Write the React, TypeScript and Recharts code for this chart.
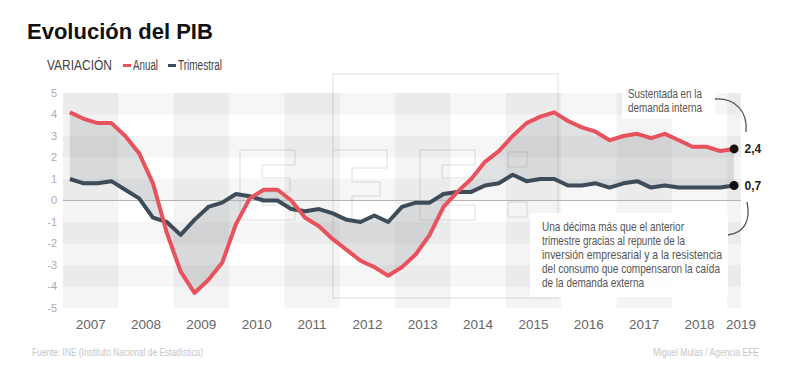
import React from 'react';
import {
  ComposedChart,
  Line,
  Area,
  XAxis,
  YAxis,
  ReferenceArea,
  ReferenceLine,
  ReferenceDot,
} from 'recharts';

const years = ['2007', '2008', '2009', '2010', '2011', '2012', '2013', '2014', '2015', '2016', '2017', '2018', '2019'];
const quarterNames = ['T1', 'T2', 'T3', 'T4'];

// Variación anual (%), 2007-T1 .. 2019-T1
const anual = [
  4.1, 3.8, 3.6, 3.6,
  3.0, 2.2, 0.8, -1.5,
  -3.3, -4.3, -3.7, -2.9,
  -1.1, 0.1, 0.5, 0.5,
  0.0, -0.8, -1.2, -1.8,
  -2.3, -2.8, -3.1, -3.5,
  -3.1, -2.5, -1.6, -0.3,
  0.4, 1.0, 1.8, 2.3,
  3.0, 3.6, 3.9, 4.1,
  3.7, 3.4, 3.2, 2.8,
  3.0, 3.1, 2.9, 3.1,
  2.8, 2.5, 2.5, 2.3,
  2.4,
];

// Variación trimestral (%)
const trimestral = [
  1.0, 0.8, 0.8, 0.9,
  0.5, 0.1, -0.8, -1.0,
  -1.6, -0.9, -0.3, -0.1,
  0.3, 0.2, 0.0, 0.0,
  -0.4, -0.5, -0.4, -0.6,
  -0.9, -1.0, -0.7, -1.0,
  -0.3, -0.1, -0.1, 0.3,
  0.4, 0.4, 0.7, 0.8,
  1.2, 0.9, 1.0, 1.0,
  0.7, 0.7, 0.8, 0.6,
  0.8, 0.9, 0.6, 0.7,
  0.6, 0.6, 0.6, 0.6,
  0.7,
];

const yTicks = [5, 4, 3, 2, 1, 0, -1, -2, -3, -4, -5];
const rowBands = [[4, 5], [2, 3], [0, 1], [-2, -1], [-4, -3]];
const lastLabels = ['2,4', '0,7'];

const data = anual.map((a, i) => ({
  x: i + 0.5,
  periodo: `${years[Math.floor(i / 4)]}-${quarterNames[i % 4]}`,
  anual: a,
  trimestral: trimestral[i],
  rango: [trimestral[i], a],
}));

const nQ = anual.length;
const yearTicks = years.map((_, k) => (k < years.length - 1 ? k * 4 + 2 : nQ));
const colBands = years
  .map((_, k) => [k * 4, Math.min(k * 4 + 4, nQ)])
  .filter((_, k) => k % 2 === 0);

const RED = '#e8525c';
const BLUE = '#3e4c59';
const SANS = "'Liberation Sans', Arial, Helvetica, sans-serif";

const E_SHAPE = (x: number) =>
  `M${x},150 H${x + 55} V165 H${x + 22} V178 H${x + 50} V192 H${x + 22} V205 H${x + 55} V220 H${x} Z`;

const NText = ({ x, y, w, children, anchor }: { x: number; y: number; w: number; children: string; anchor?: string }) => (
  <text
    x={anchor === 'end' ? x - w : x}
    y={y}
    textLength={w}
    lengthAdjust="spacingAndGlyphs"
  >
    {children}
  </text>
);

export default function App() {
  const last = data[data.length - 1];
  return (
    <div style={{ position: 'absolute', left: 0, top: 0, width: 800, height: 370, background: '#fff', overflow: 'hidden' }}>
      {/* watermark behind the chart */}
      <svg width={800} height={370} style={{ position: 'absolute', left: 0, top: 0 }}>
        <g fill="none" stroke="#e0e0e0" strokeWidth={1}>
          <rect x={333} y={74} width={225} height={224} />
          <path d={E_SHAPE(240)} />
          <path d="M333,150 H387 V168 H352 V182 H380 V196 H352 V220" />
          <path d={E_SHAPE(420)} />
          <rect x={508} y={152} width={19} height={15} />
          <rect x={508} y={202} width={19} height={15} />
        </g>
      </svg>
      <div style={{ position: 'absolute', left: 0, top: 0 }}>
        <ComposedChart
          width={800}
          height={370}
          data={data}
          margin={{ top: 93, right: 59, bottom: 32, left: 33 }}
        >
          {colBands.map(([a, b], k) => (
            <ReferenceArea key={`c${k}`} x1={a} x2={b} y1={-5} y2={5} fill="#000" fillOpacity={0.045} stroke="none" ifOverflow="visible" />
          ))}
          {rowBands.map(([a, b], k) => (
            <ReferenceArea key={`r${k}`} x1={0} x2={nQ} y1={a} y2={b} fill="#000" fillOpacity={0.035} stroke="none" ifOverflow="visible" />
          ))}
          <XAxis
            dataKey="x"
            type="number"
            domain={[0, nQ]}
            ticks={yearTicks}
            tickFormatter={(v: number) => years[yearTicks.indexOf(v)] ?? ''}
            axisLine={false}
            tickLine={false}
            tickSize={8}
            tickMargin={3}
            height={30}
            interval={0}
            tick={{ fill: '#666', fontSize: 13.5, fontFamily: SANS }}
          />
          <YAxis
            type="number"
            domain={[-5, 5]}
            ticks={yTicks}
            axisLine={false}
            tickLine={false}
            tickSize={4}
            tickMargin={2}
            width={30}
            interval={0}
            tick={{ fill: '#adadad', fontSize: 11, fontFamily: SANS }}
          />
          <ReferenceLine y={0} stroke="#b4b4b4" strokeWidth={1} ifOverflow="visible" />
          <Area
            dataKey="rango"
            type="linear"
            stroke="none"
            fill="#8e949b"
            fillOpacity={0.28}
            isAnimationActive={false}
          />
          <Line dataKey="trimestral" type="linear" stroke={BLUE} strokeWidth={4} dot={false} isAnimationActive={false} strokeLinejoin="round" />
          <Line dataKey="anual" type="linear" stroke={RED} strokeWidth={4} dot={false} isAnimationActive={false} strokeLinejoin="round" />
          <ReferenceDot
            x={last.x}
            y={last.anual}
            r={4.5}
            fill="#111"
            stroke="none"
            ifOverflow="visible"
            label={{ value: lastLabels[0], position: 'right', offset: 6, fill: '#222', fontSize: 12, fontWeight: 700, fontFamily: SANS }}
          />
          <ReferenceDot
            x={last.x}
            y={last.trimestral}
            r={4.5}
            fill="#111"
            stroke="none"
            ifOverflow="visible"
            label={{ value: lastLabels[1], position: 'right', offset: 6, fill: '#222', fontSize: 12, fontWeight: 700, fontFamily: SANS }}
          />
        </ComposedChart>
      </div>
      {/* annotations overlay */}
      <svg width={800} height={370} style={{ position: 'absolute', left: 0, top: 0, pointerEvents: 'none' }}>
        <text x={27} y={39} fontFamily={SANS} fontWeight={700} fontSize={22} fill="#111">Evolución del PIB</text>
        <g fontFamily={SANS} fontSize={14} fill="#444">
          <NText x={47} y={70} w={65}>VARIACIÓN</NText>
          <rect x={123} y={64} width={8} height={3} fill={RED} />
          <NText x={133} y={70} w={25}>Anual</NText>
          <rect x={168} y={64} width={8} height={3} fill={BLUE} />
          <NText x={178} y={70} w={44}>Trimestral</NText>
        </g>

        <rect x={622} y={86} width={93} height={33} fill="#fff" fillOpacity={0.92} />
        <g fontFamily={SANS} fontSize={13} fill="#555">
          <NText x={628} y={98} w={74}>Sustentada en la</NText>
          <NText x={628} y={112} w={74}>demanda interna</NText>
        </g>
        <path d="M715,99 C736,98 748,112 746,132" fill="none" stroke="#555" strokeWidth={1.3} />

        <rect x={530} y={213} width={198} height={84} fill="#fff" fillOpacity={0.92} />
        <g fontFamily={SANS} fontSize={13} fill="#555">
          <NText x={542} y={231} w={142}>Una décima más que el anterior</NText>
          <NText x={542} y={245} w={143}>trimestre gracias al repunte de la</NText>
          <NText x={542} y={259} w={180}>inversión empresarial y a la resistencia</NText>
          <NText x={542} y={273} w={178}>del consumo que compensaron la caída</NText>
          <NText x={542} y={287} w={102}>de la demanda externa</NText>
        </g>
        <path d="M747,202 C751,221 744,233 728,235" fill="none" stroke="#555" strokeWidth={1.3} />

        <g fontFamily={SANS} fontSize={10.5} fill="#c6c6c6">
          <NText x={32} y={356} w={171}>Fuente: INE (Instituto Nacional de Estadística)</NText>
          <NText x={759} y={356} w={106} anchor="end">Miguel Mulas / Agencia EFE</NText>
        </g>
      </svg>
    </div>
  );
}
